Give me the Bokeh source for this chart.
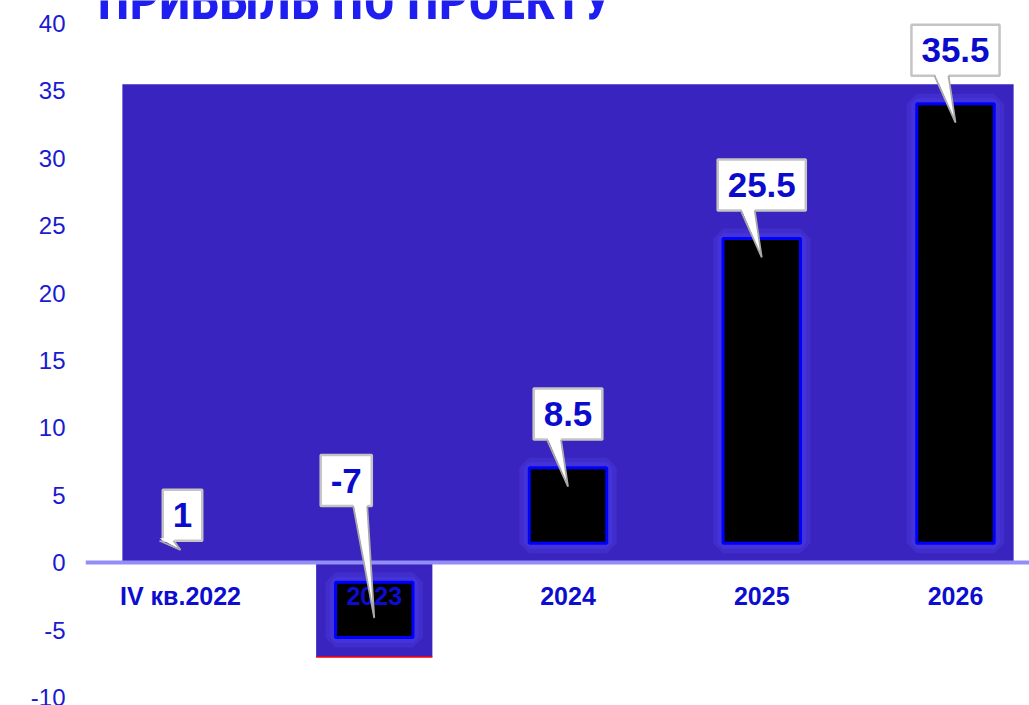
from bokeh.plotting import figure
from bokeh.models import Range1d, FixedTicker, ColumnDataSource
from bokeh.core.properties import value
from bokeh.embed import file_html
from bokeh.resources import INLINE

# ---------------- data ----------------
categories = ["IV кв.2022", "2023", "2024", "2025", "2026"]
profit = [1, -7, 8.5, 25.5, 35.5]
value_labels = ["1", "-7", "8.5", "25.5", "35.5"]
y_ticks = [-10, -5, 0, 5, 10, 15, 20, 25, 30, 35, 40]
title_text = "ПРИБЫЛЬ ПО ПРОЕКТУ"

# ---------------- layout constants ----------------
W, H = 1029, 705
PXX = 193.75          # pixels per category
PXY = 13.48           # pixels per y unit
FRAME_LEFT = 85
FIRST_CENTER = 180
x_start = (FRAME_LEFT - FIRST_CENTER) / PXX
x_end = (W - FIRST_CENTER) / PXX
y_end = 40 + 23 / PXY
y_start = y_end - H / PXY

BG = "#3924c0"
LABEL_BLUE = "#0d0dd0"
TICK_BLUE = "#1a1ad2"

xs = list(range(len(categories)))

p = figure(width=W, height=H,
           x_range=Range1d(x_start, x_end), y_range=Range1d(y_start, y_end),
           output_backend="svg", toolbar_location=None, x_axis_location=None,
           min_border_left=FRAME_LEFT, min_border_right=0,
           min_border_top=0, min_border_bottom=0)
p.margin = (0, 0, 0, 0)
p.outline_line_color = None
p.grid.visible = False
p.background_fill_color = "white"
p.border_fill_color = "white"

ya = p.yaxis[0]
ya.ticker = FixedTicker(ticks=y_ticks)
ya.major_label_overrides = {t: str(t) for t in y_ticks}
ya.axis_line_color = None
ya.major_tick_line_color = None
ya.minor_tick_line_color = None
ya.major_tick_out = 0
ya.major_tick_in = 0
ya.major_label_standoff = 20
ya.major_label_text_font = "Liberation Sans"
ya.major_label_text_font_size = "24px"
ya.major_label_text_color = TICK_BLUE

# ---------------- background block ----------------
half = 0.3
p.quad(left=[xs[0] - half], right=[xs[-1] + half], bottom=[0], top=[max(profit)],
       fill_color=BG, line_color=None)

# negative bars get their own block below zero
neg = ColumnDataSource(dict(
    l=[x - half for x, v in zip(xs, profit) if v < 0],
    r=[x + half for x, v in zip(xs, profit) if v < 0],
    b=[v for v in profit if v < 0],
))
p.quad(left="l", right="r", bottom="b", top=0, source=neg, fill_color=BG, line_color=None)
p.segment(x0="l", x1="r", y0="b", y1="b", source=neg, line_color="red", line_width=1.5)

# ---------------- inner black bars with glow ----------------
inset = 1.45
bh = 0.2
bl, br, bb, bt = [], [], [], []
for x, v in zip(xs, profit):
    if abs(v) > 2 * inset:
        bl.append(x - bh)
        br.append(x + bh)
        if v > 0:
            bb.append(inset); bt.append(v - inset)
        else:
            bb.append(v + inset); bt.append(-inset)
bars = ColumnDataSource(dict(l=bl, r=br, b=bb, t=bt))
p.quad(left="l", right="r", bottom="b", top="t", source=bars,
       fill_color=None, line_color="#5a4cf0", line_alpha=0.22, line_width=20)
p.quad(left="l", right="r", bottom="b", top="t", source=bars,
       fill_color=None, line_color="#4d42f2", line_alpha=0.35, line_width=11)
p.quad(left="l", right="r", bottom="b", top="t", source=bars,
       fill_color="black", line_color="#0000ff", line_width=3)

# ---------------- zero line ----------------
p.hspan(y=[0], line_color="#928ef5", line_width=4)

# ---------------- category labels ----------------
label_y = -33 / PXY
p.text(x=xs, y=[label_y] * len(xs), text=categories,
       text_font=value("Liberation Sans"), text_font_style="bold",
       text_font_size="25px", text_color=LABEL_BLUE,
       text_align="center", text_baseline="middle")

# ---------------- callouts ----------------
char_w = {".": 0.278, "-": 0.333}
FS = 35
box_h_px = 51
box_w, box_x, box_y, box_bot = [], [], [], []
tails_x, tails_y, side_x, side_y = [], [], [], []
for x, v, t in zip(xs, profit, value_labels):
    w = 20 + sum(char_w.get(c, 0.556) for c in t) * FS
    if v < 0:
        bottom = 4.2
        tip = v + 2.9
        dx = -28 / PXX
    elif v > 2 * inset:
        bottom = v + 8.5 / PXY
        tip = v - 38.5 / PXY
        dx = 0
    else:
        bottom = v + 8.5 / PXY
        tip = v - 0.05
        dx = 2 / PXX
    box_w.append(w)
    box_x.append(x + dx)
    box_bot.append(bottom)
    box_y.append(bottom + box_h_px / 2 / PXY)
    b1 = x - 21 / PXX
    b2 = x - 7 / PXX
    tails_x.append([b1, b2, x])
    tails_y.append([bottom + 2.5 / PXY, bottom + 2.5 / PXY, tip])
    side_x.append([b1, x, b2])
    side_y.append([bottom, tip, bottom])

boxes = ColumnDataSource(dict(x=box_x, y=box_y, w=box_w, t=value_labels))
p.rect(x="x", y="y", width="w", height=box_h_px, width_units="screen",
       height_units="screen", source=boxes, fill_color="white",
       line_color="#c4c4c4", line_width=2.5)
p.patches(xs=tails_x, ys=tails_y, fill_color="white", line_color=None)
p.multi_line(xs=side_x, ys=side_y, line_color="#a9a9a9", line_width=1.8)
p.text(x="x", y="y", text="t", source=boxes,
       text_font=value("Liberation Sans"), text_font_style="bold",
       text_font_size="35px", text_color="#0b0bcc",
       text_align="center", text_baseline="middle")

# ---------------- clipped title ----------------
p.text(x=[(97 - FIRST_CENTER) / PXX], y=[y_end - 17 / PXY], text=[title_text],
       y_offset=-16,
       text_font=value("Roboto Condensed"), text_font_style="bold",
       text_font_size="52px", text_color="#1e1ef0",
       text_align="left", text_baseline="alphabetic")

open("out.html", "w").write(file_html(p, INLINE))
